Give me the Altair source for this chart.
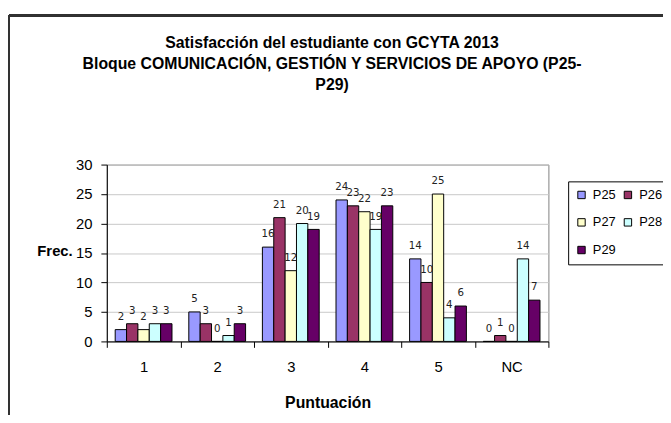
import altair as alt
import pandas as pd

categories = ["1", "2", "3", "4", "5", "NC"]
series = ["P25", "P26", "P27", "P28", "P29"]
p25 = [2, 5, 16, 24, 14, 0]
p26 = [3, 3, 21, 23, 10, 1]
p27 = [2, 0, 12, 22, 25, 0]
p28 = [3, 1, 20, 19, 4, 14]
p29 = [3, 3, 19, 23, 6, 7]
colors = ["#9999FF", "#993366", "#FFFFCC", "#CCFFFF", "#660066"]
y_ticks = [0, 5, 10, 15, 20, 25, 30]
title_lines = ["Satisfacción del estudiante con GCYTA 2013",
               "Bloque COMUNICACIÓN, GESTIÓN Y SERVICIOS DE APOYO (P25-",
               "P29)"]

rows = []
for s, vals in zip(series, [p25, p26, p27, p28, p29]):
    for c, v in zip(categories, vals):
        rows.append({"cat": c, "serie": s, "val": v})
df = pd.DataFrame(rows)

FONT = "Liberation Sans"

x = alt.X(
    "cat:N", sort=categories, title="Puntuación",
    scale=alt.Scale(paddingInner=0, paddingOuter=0),
    axis=alt.Axis(
        tickBand="extent", labelAngle=0, domainColor="black", tickColor="black",
        tickSize=6, labelPadding=12, labelFontSize=15, labelColor="black",
        labelFont=FONT, titleFont=FONT, titleFontSize=16, titleFontWeight="bold",
        titlePadding=21, titleColor="black", grid=False,
    ),
)
xo = alt.XOffset("serie:N", sort=series,
                 scale=alt.Scale(paddingInner=0, paddingOuter=0.74))
y = alt.Y(
    "val:Q", title="Frec.",
    scale=alt.Scale(domain=[0, 30], nice=False),
    axis=alt.Axis(
        values=y_ticks, grid=True, gridColor="#C8C8C8", domainColor="black",
        tickColor="black", tickSize=6, labelFontSize=15, labelColor="black",
        labelFont=FONT, labelPadding=9, titleFont=FONT, titleFontSize=15,
        titleFontWeight="bold", titleColor="black", titleAngle=0,
        titleAlign="right", titleBaseline="middle", titleX=-35, titleY=87,
    ),
)
color = alt.Color(
    "serie:N", sort=series,
    scale=alt.Scale(domain=series, range=colors),
    legend=alt.Legend(
        orient="none", legendX=467, legendY=17, columns=2, title=None,
        values=[series[0], series[2], series[4], series[1], series[3]],
        strokeColor="black", fillColor="white", padding=7,
        symbolType="square", symbolSize=56, symbolStrokeColor="black",
        symbolStrokeWidth=1, symbolOpacity=1, labelFontSize=13, labelFont=FONT,
        labelColor="black", rowPadding=14, columnPadding=5, labelOffset=5,
    ),
)

bars = alt.Chart(df).mark_bar(stroke="black", strokeWidth=1, opacity=1).encode(
    x=x, xOffset=xo, y=y, color=color
)
labels = alt.Chart(df).mark_text(
    baseline="bottom", dy=-8, fontSize=11.5,
    font="Liberation Sans Narrow, DejaVu Sans Condensed", color="#222222",
).encode(x=x, xOffset=xo, y=y, text="val:Q")

title_df = pd.DataFrame({"t": [title_lines]})
title = alt.Chart(title_df).mark_text(
    font=FONT, fontSize=16, fontWeight="bold", color="black",
    align="center", baseline="middle", lineHeight=21.5,
).encode(text="t", x=alt.value(228), y=alt.value(-123))

frame_top = alt.Chart(df).mark_rule(color="#333333", strokeWidth=1.5).encode(
    x=alt.value(-99), x2=alt.value(700), y=alt.value(-151)
)
frame_left = alt.Chart(df).mark_rule(color="#333333", strokeWidth=1.5).encode(
    x=alt.value(-99), y=alt.value(-151), y2=alt.value(400)
)

chart = alt.layer(bars, labels, title, frame_top, frame_left).properties(
    width=447, height=179,
    padding={"left": 100, "top": 156, "right": 116, "bottom": 72},
    autosize=alt.AutoSizeParams(type="none"),
).configure_view(stroke="#808080")

chart.save("out.html", embed_options={"renderer": "svg", "actions": False})
